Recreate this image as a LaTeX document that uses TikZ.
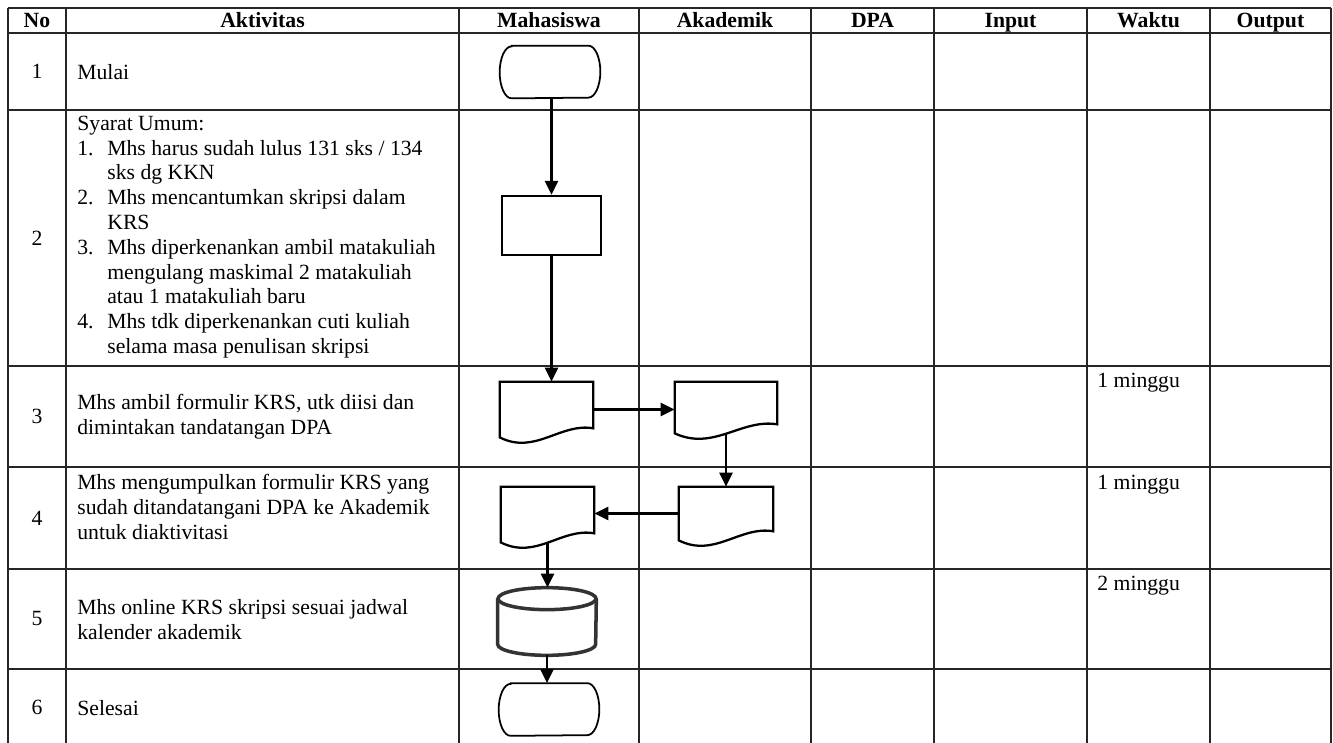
\documentclass[tikz,border=0pt]{standalone}
\usepackage{fontspec}
\setmainfont{Liberation Serif}
\usetikzlibrary{positioning,arrows.meta,calc}

\begin{document}
\begin{tikzpicture}[
    x=0.02cm,y=-0.02cm,
    font=\fontsize{12.35}{14.1}\selectfont,
    grid/.style={line width=1pt,black!85},
    head/.style={font=\fontsize{12.35}{14.1}\selectfont\bfseries,inner sep=0,anchor=base},
    txt/.style={anchor=west,align=left,inner sep=0},
    terminal/.style={rectangle,minimum width=2cm,minimum height=1.04cm,inner sep=0},
    process/.style={rectangle,draw,line width=1.3pt,minimum width=1.98cm,minimum height=1.18cm},
    docu/.style={rectangle,minimum width=1.86cm,minimum height=1.1cm,inner sep=0},
    dbase/.style={rectangle,minimum width=1.96cm,minimum height=1.34cm,inner sep=0},
    arrow/.style={-{Triangle[length=0.28cm,width=0.26cm]},line width=1.4pt}
]
\useasboundingbox (0,0) rectangle (1333,743);

% table
\foreach \y in {8,33,110,366,467,569,669}
    \draw[grid] (8,\y) -- (1331,\y);
\foreach \x in {8,66,459,639,811,934,1087,1210,1331}
    \draw[grid] (\x,8) -- (\x,743);

\foreach \x/\t in {37/No,262.5/Aktivitas,549/Mahasiswa,725/Akademik,872.5/DPA,1010.5/Input,1148.5/Waktu,1270.5/Output}
    \node[head] (h-\t) at (\x,28) {\t};

\foreach \y/\n in {71.5/1,238/2,416.5/3,518/4,619/5,707/6}
    \node (no\n) at (37,\y) {\n};

% aktivitas
\node[txt] (akt1) at (77,72) {Mulai};
\node[txt] (akt2) at (77,237) {Syarat Umum:\\
    \makebox[0.6cm][l]{1.}Mhs harus sudah lulus 131 sks / 134\\
    \hspace*{0.6cm}sks dg KKN\\
    \makebox[0.6cm][l]{2.}Mhs mencantumkan skripsi dalam\\
    \hspace*{0.6cm}KRS\\
    \makebox[0.6cm][l]{3.}Mhs diperkenankan ambil matakuliah\\
    \hspace*{0.6cm}mengulang maskimal 2 matakuliah\\
    \hspace*{0.6cm}atau 1 matakuliah baru\\
    \makebox[0.6cm][l]{4.}Mhs tdk diperkenankan cuti kuliah\\
    \hspace*{0.6cm}selama masa penulisan skripsi};
\node[txt] (akt3) at (77,416.5) {Mhs ambil formulir KRS, utk diisi dan\\dimintakan tandatangan DPA};
\node[txt] (akt4) at (77,507) {Mhs mengumpulkan formulir KRS yang\\sudah ditandatangani DPA ke Akademik\\untuk diaktivitasi};
\node[txt] (akt5) at (77,619.5) {Mhs online KRS skripsi sesuai jadwal\\kalender akademik};
\node[txt] (akt6) at (77,708) {Selesai};

% waktu
\node[anchor=base west,inner sep=0] (wkt3) at (1097,388) {1 minggu};
\node[anchor=base west,inner sep=0] (wkt4) at (1097,489) {1 minggu};
\node[anchor=base west,inner sep=0] (wkt5) at (1097,590) {2 minggu};

% flow
\node[terminal] (mulai) at (550,72) {};
\node[process] (syarat) at (551.5,225.5) {};
\node[docu] (doc1) at (546.5,409.5) {};
\node[docu,minimum width=2.04cm,minimum height=1.02cm] (doc2) at (726,407.5) {};
\node[docu,minimum width=1.88cm,minimum height=1.06cm] (doc3) at (726,513.5) {};
\node[docu] (doc4) at (547.5,514.5) {};
\node[dbase] (krs) at (547,621.5) {};
\node[terminal] (selesai) at (549,709.5) {};

\foreach \t in {mulai,selesai}
    \draw[line width=1pt] ($(\t.north west)+(12,0)$) -- ($(\t.north east)+(-12,0)$)
        arc[start angle=90,end angle=-90,x radius=0.24cm,y radius=0.52cm]
        -- ($(\t.south west)+(12,0)$)
        arc[start angle=270,end angle=90,x radius=0.24cm,y radius=0.52cm] -- cycle;

\foreach \d in {doc1,doc2,doc3,doc4}
    \draw[line width=1.3pt] (\d.south west) -- (\d.north west) -- (\d.north east) -- ($(\d.south east)+(0,-9)$)
        .. controls ($(\d.south east)!0.35!(\d.south west)+(0,-15)$) and ($(\d.south west)!0.38!(\d.south east)+(0,18)$) .. (\d.south west) -- cycle;

\draw[line width=2pt,black!80] ($(krs.north)+(0,11)$) ellipse [x radius=0.98cm,y radius=0.22cm];
\draw[line width=2pt,black!80] ($(krs.north west)+(0,11)$) -- ($(krs.south west)+(0,-11)$)
    arc[start angle=180,end angle=360,x radius=0.98cm,y radius=0.22cm] -- ($(krs.north east)+(0,11)$);

\draw[arrow] (syarat.north |- mulai.south) -- (syarat.north);
\draw[arrow] (syarat.south) -- (syarat.south |- doc1.north);
\draw[arrow] (doc1.east) -- (doc1.east -| doc2.west);
\draw[arrow] (doc2.south) -- (doc3.north);
\draw[arrow] (doc3.west) -- (doc3.west -| doc4.east);
\draw[arrow] (doc4.south) -- (doc4.south |- krs.north);
\draw[arrow] (krs.south) -- (krs.south |- selesai.north);

\end{tikzpicture}
\end{document}
